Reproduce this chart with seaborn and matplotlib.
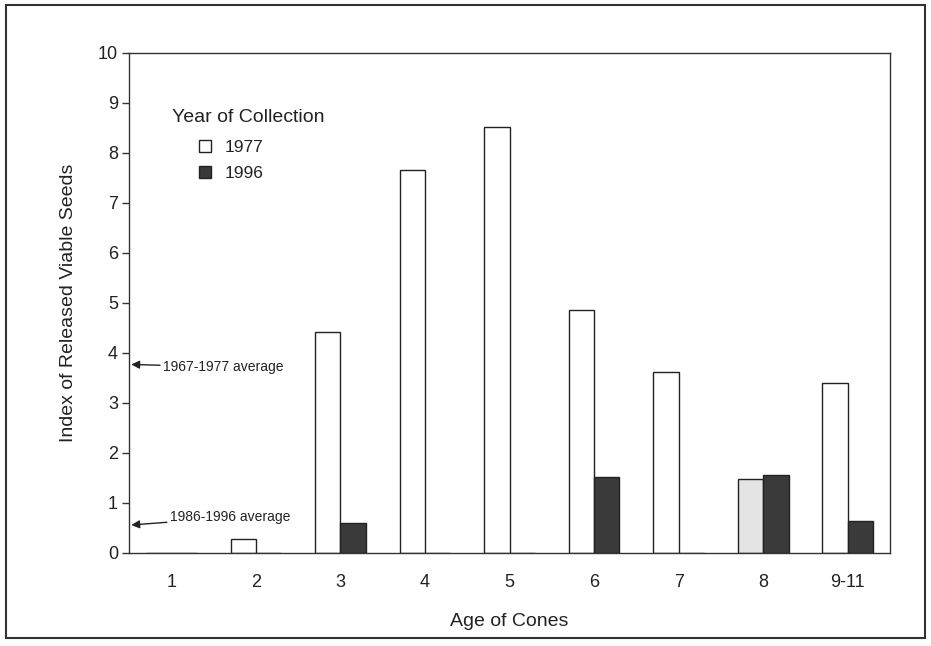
import pandas as pd
import matplotlib
matplotlib.use("Agg")
import matplotlib.pyplot as plt
import seaborn as sns
from matplotlib.patches import Rectangle, Patch

# Data
ages = ["1", "2", "3", "4", "5", "6", "7", "8", "9-11"]
seeds_1977 = [0.0, 0.28, 4.42, 7.65, 8.52, 4.86, 3.62, 1.48, 3.40]
seeds_1996 = [0.0, 0.0, 0.60, 0.0, 0.0, 1.52, 0.0, 1.56, 0.64]
years = ["1977", "1996"]
avg_1967_1977 = 3.77
avg_1986_1996 = 0.56

df = pd.DataFrame({
    "age": ages * 2,
    "year": [years[0]] * len(ages) + [years[1]] * len(ages),
    "value": seeds_1977 + seeds_1996,
})

sns.set_style("ticks")
plt.rcParams["font.family"] = ["Liberation Sans", "DejaVu Sans"]

fig = plt.figure(figsize=(9.31, 6.46), dpi=100)
ax = fig.add_axes([0.1386, 0.144, 0.8174, 0.774])

sns.barplot(data=df, x="age", y="value", hue="year", order=ages,
            hue_order=years, palette=["white", "#3a3a3a"], width=0.6,
            edgecolor="#222222", linewidth=1.0, saturation=1, ax=ax,
            legend=False)

# the 1977 bar at age 8 is shaded light grey in the original
ax.containers[0][7].set_facecolor("#e4e4e4")

ax.set_ylim(0, 10)
ax.set_xlim(-0.5, 8.5)
ax.set_yticks(range(0, 11))
ax.tick_params(axis="y", labelsize=13, length=5, width=1, color="#333333",
               labelcolor="#222222", pad=3)
ax.tick_params(axis="x", labelsize=13, length=0, pad=15, labelcolor="#222222")
for s in ax.spines.values():
    s.set_color("#333333")
    s.set_linewidth(1.0)

ax.set_xlabel("Age of Cones", fontsize=14, color="#222222", labelpad=16)
ax.set_ylabel("Index of Released Viable Seeds", fontsize=14, color="#222222",
              labelpad=15)

# legend: title as plain text, entries indented below it
ax.text(0.056, 0.870, "Year of Collection", transform=ax.transAxes,
        fontsize=14, color="#222222", va="center", ha="left")
handles = [Patch(facecolor="white", edgecolor="#222222", label=years[0]),
           Patch(facecolor="#3a3a3a", edgecolor="#222222", label=years[1])]
ax.legend(handles=handles, frameon=False, loc="upper left",
          bbox_to_anchor=(0.092, 0.826), borderaxespad=0, borderpad=0,
          fontsize=12.5, handlelength=0.7, handleheight=0.7,
          handletextpad=0.75, labelspacing=0.6, labelcolor="#222222")

# average arrows
ax.annotate("1967-1977 average", xy=(0.003, avg_1967_1977),
            xycoords=("axes fraction", "data"),
            xytext=(0.045, avg_1967_1977 - 0.05),
            textcoords=("axes fraction", "data"),
            fontsize=10, va="center", color="#222222",
            arrowprops=dict(arrowstyle="-|>", color="#222222", lw=1.0,
                            mutation_scale=12, shrinkA=0, shrinkB=0))
ax.annotate("1986-1996 average", xy=(0.003, avg_1986_1996),
            xycoords=("axes fraction", "data"),
            xytext=(0.054, avg_1986_1996 + 0.15),
            textcoords=("axes fraction", "data"),
            fontsize=10, va="center", color="#222222",
            arrowprops=dict(arrowstyle="-|>", color="#222222", lw=1.0,
                            mutation_scale=12, shrinkA=0, shrinkB=0))

# frame around the whole figure
fig.patches.append(Rectangle((0.006, 0.0124), 0.988, 0.98,
                             transform=fig.transFigure, fill=False,
                             edgecolor="#333333", linewidth=1.5))

fig.savefig("out.png", dpi=100)
